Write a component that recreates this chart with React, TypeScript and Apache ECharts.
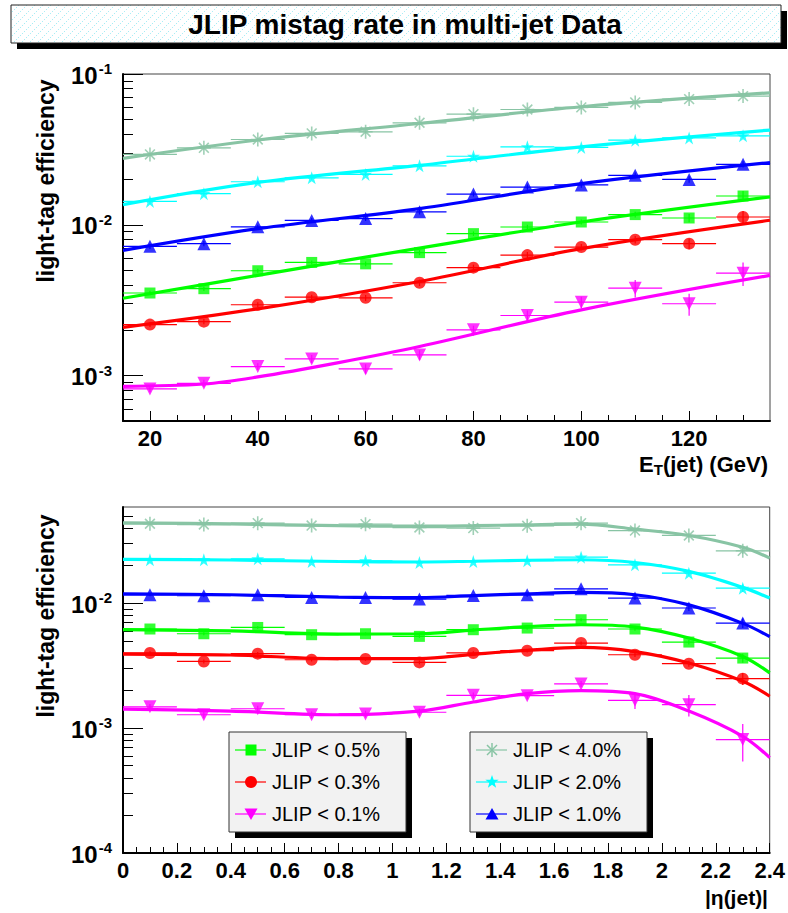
import React, { useEffect, useRef } from 'react';
import * as echarts from 'echarts';

const FAM = "'Liberation Sans', Arial, Helvetica, sans-serif";

// ---------- top panel: efficiency vs E_T ----------
const etBins = [20, 30, 40, 50, 60, 70, 80, 90, 100, 110, 120, 130];
const etHalf = 5;
const et40 = [0.0293, 0.0324, 0.0368, 0.0404, 0.0414, 0.0475, 0.0542, 0.0582, 0.0601, 0.0648, 0.0682, 0.0714];
const et20 = [0.0143, 0.0161, 0.0193, 0.0205, 0.0216, 0.0246, 0.0285, 0.0329, 0.0326, 0.0364, 0.0377, 0.0389];
const et10 = [0.0072, 0.0075, 0.0097, 0.0107, 0.011, 0.0122, 0.016, 0.0178, 0.0184, 0.0213, 0.02, 0.0252];
const et05 = [0.00353, 0.00377, 0.00496, 0.00563, 0.00551, 0.00654, 0.00874, 0.00967, 0.01044, 0.01169, 0.0111, 0.01553];
const et03 = [0.00218, 0.00228, 0.00295, 0.00331, 0.00328, 0.00413, 0.0052, 0.0063, 0.00712, 0.00797, 0.0075, 0.01127];
const et01 = [0.000816, 0.000889, 0.001148, 0.001291, 0.001108, 0.001372, 0.002012, 0.002504, 0.003069, 0.003802, 0.002995, 0.004781];

const et40Err = [0.0008, 0.0008, 0.0008, 0.0008, 0.0009, 0.001, 0.0011, 0.0012, 0.0013, 0.0014, 0.0016, 0.0018];
const et20Err = [0.0005, 0.0005, 0.0005, 0.0006, 0.0006, 0.0007, 0.0008, 0.0009, 0.001, 0.0011, 0.0012, 0.0014];
const et10Err = [0.0003, 0.0003, 0.0003, 0.0004, 0.0004, 0.0005, 0.0006, 0.0007, 0.0008, 0.0009, 0.001, 0.0012];
const et05Err = [0.00012, 0.00013, 0.00015, 0.00018, 0.0002, 0.00025, 0.0003, 0.00035, 0.0004, 0.0005, 0.0007, 0.0012];
const et03Err = [0.00008, 0.00009, 0.00011, 0.00013, 0.00015, 0.0002, 0.00024, 0.0003, 0.00035, 0.00045, 0.0006, 0.0011];
const et01Err = [0.00004, 0.00005, 0.00006, 0.00008, 0.00008, 0.0001, 0.00013, 0.0002, 0.00026, 0.0005, 0.0005, 0.00085];

const etFitX = [15, 40, 70, 100, 135];
const etFit40 = [0.0276, 0.0365, 0.047, 0.0607, 0.0751];
const etFit20 = [0.0136, 0.0191, 0.0248, 0.0329, 0.0425];
const etFit10 = [0.00677, 0.00943, 0.01281, 0.01877, 0.0259];
const etFit05 = [0.00326, 0.00462, 0.00701, 0.01044, 0.0153];
const etFit03 = [0.00209, 0.00277, 0.00421, 0.00695, 0.01072];
const etFitX01 = [15, 30, 40, 55, 70, 100, 135];
const etFit01 = [0.000849, 0.00088, 0.00098, 0.00122, 0.00156, 0.00273, 0.00462];

// ---------- bottom panel: efficiency vs |eta| ----------
const etaBins = [0.1, 0.3, 0.5, 0.7, 0.9, 1.1, 1.3, 1.5, 1.7, 1.9, 2.1, 2.3];
const etaHalf = 0.1;
const eta40 = [0.0433, 0.0427, 0.0438, 0.0419, 0.043, 0.0404, 0.04, 0.0417, 0.0438, 0.0382, 0.0349, 0.0263];
const eta20 = [0.0223, 0.0223, 0.0227, 0.0216, 0.0219, 0.0212, 0.0216, 0.0219, 0.0234, 0.0203, 0.0174, 0.0132];
const eta10 = [0.01169, 0.01148, 0.01169, 0.01113, 0.01113, 0.0108, 0.01155, 0.01169, 0.01306, 0.01101, 0.00916, 0.00694];
const eta05 = [0.00622, 0.0057, 0.0064, 0.0056, 0.0057, 0.00543, 0.00614, 0.00633, 0.00738, 0.00622, 0.00489, 0.00364];
const eta03 = [0.004, 0.00342, 0.00395, 0.00353, 0.00358, 0.00336, 0.004, 0.00417, 0.0048, 0.00387, 0.00328, 0.00249];
const eta01 = [0.00148, 0.00128, 0.00143, 0.00128, 0.0013, 0.00134, 0.00183, 0.00182, 0.00226, 0.00167, 0.00154, 0.00081];

const eta40Err = [0.0009, 0.0009, 0.0009, 0.0009, 0.0009, 0.0009, 0.0009, 0.001, 0.0012, 0.0012, 0.0014, 0.0015];
const eta20Err = [0.0005, 0.0005, 0.0005, 0.0005, 0.0005, 0.0005, 0.0005, 0.0006, 0.0007, 0.0007, 0.0008, 0.0009];
const eta10Err = [0.0003, 0.0003, 0.0003, 0.0003, 0.0003, 0.0003, 0.0003, 0.0004, 0.0004, 0.0004, 0.0005, 0.0006];
const eta05Err = [0.00015, 0.00015, 0.00015, 0.00015, 0.00015, 0.00015, 0.00016, 0.00018, 0.0002, 0.0002, 0.00022, 0.0003];
const eta03Err = [0.00012, 0.00012, 0.00012, 0.00012, 0.00012, 0.00012, 0.00013, 0.00014, 0.00015, 0.00016, 0.00018, 0.00028];
const eta01Err = [0.00008, 0.00008, 0.00008, 0.00008, 0.00008, 0.00009, 0.0001, 0.00012, 0.00013, 0.00025, 0.0003, 0.00027];

const etaFitX = [0, 0.4, 0.8, 1.1, 1.3, 1.5, 1.7, 1.9, 2.1, 2.3, 2.4];
const etaFit40 = [0.044, 0.0432, 0.0418, 0.0414, 0.0418, 0.0425, 0.043, 0.0392, 0.0349, 0.0281, 0.023];
const etaFit20 = [0.0225, 0.0222, 0.0216, 0.0214, 0.0217, 0.0221, 0.0223, 0.0212, 0.018, 0.0134, 0.011];
const etaFit10 = [0.0119, 0.0117, 0.0112, 0.0111, 0.0115, 0.0119, 0.0122, 0.0117, 0.0097, 0.0069, 0.0054];
const etaFit05 = [0.00614, 0.006, 0.00567, 0.0057, 0.0061, 0.0065, 0.00673, 0.00645, 0.00527, 0.00375, 0.00277];
const etaFit03 = [0.00392, 0.00385, 0.0036, 0.0036, 0.0039, 0.0042, 0.00443, 0.0041, 0.00332, 0.00237, 0.0018];
const etaFit01 = [0.00142, 0.00137, 0.00128, 0.00137, 0.00162, 0.00189, 0.002, 0.00189, 0.00137, 0.00086, 0.00058];

// ---------- axes ----------
const etLabelTicks = [20, 40, 60, 80, 100, 120];
const etMinorTicks = [25, 30, 35, 45, 50, 55, 65, 70, 75, 85, 90, 95, 105, 110, 115, 125, 130];
const topDecades = [0.001, 0.01, 0.1];
const topMinor = [0.0006, 0.0007, 0.0008, 0.0009, 0.002, 0.003, 0.004, 0.005, 0.006, 0.007, 0.008, 0.009, 0.02, 0.03, 0.04, 0.05, 0.06, 0.07, 0.08, 0.09];
const botDecades = [0.0001, 0.001, 0.01];
const botMinor = [0.0002, 0.0003, 0.0004, 0.0005, 0.0006, 0.0007, 0.0008, 0.0009, 0.002, 0.003, 0.004, 0.005, 0.006, 0.007, 0.008, 0.009, 0.02, 0.03, 0.04, 0.05];

const cuts = [
  { name: 'JLIP < 0.5%', color: '#00ff00', symbol: 'rect', size: 11, rotate: 0 },
  { name: 'JLIP < 0.3%', color: '#ff0000', symbol: 'circle', size: 12, rotate: 0 },
  { name: 'JLIP < 0.1%', color: '#ff00ff', symbol: 'triangle', size: 13, rotate: 180 },
  { name: 'JLIP < 4.0%', color: '#88c4a4', symbol: 'asterisk', size: 14, rotate: 0 },
  { name: 'JLIP < 2.0%', color: '#00ffff', symbol: 'star', size: 13, rotate: 0 },
  { name: 'JLIP < 1.0%', color: '#0000ff', symbol: 'triangle', size: 13, rotate: 0 },
];

const topSets = [
  { v: et05, e: et05Err, fx: etFitX, fy: etFit05 },
  { v: et03, e: et03Err, fx: etFitX, fy: etFit03 },
  { v: et01, e: et01Err, fx: etFitX01, fy: etFit01 },
  { v: et40, e: et40Err, fx: etFitX, fy: etFit40 },
  { v: et20, e: et20Err, fx: etFitX, fy: etFit20 },
  { v: et10, e: et10Err, fx: etFitX, fy: etFit10 },
];
const botSets = [
  { v: eta05, e: eta05Err, fx: etaFitX, fy: etaFit05 },
  { v: eta03, e: eta03Err, fx: etaFitX, fy: etaFit03 },
  { v: eta01, e: eta01Err, fx: etaFitX, fy: etaFit01 },
  { v: eta40, e: eta40Err, fx: etaFitX, fy: etaFit40 },
  { v: eta20, e: eta20Err, fx: etaFitX, fy: etaFit20 },
  { v: eta10, e: eta10Err, fx: etaFitX, fy: etaFit10 },
];

const STAR = 'path://M50,0 L61.8,36.2 L100,36.2 L69.1,58.6 L80.9,95.1 L50,72.6 L19.1,95.1 L30.9,58.6 L0,36.2 L38.2,36.2 Z';
const ASTER = 'path://M50,0 L50,100 M0,50 L100,50 M15,15 L85,85 M15,85 L85,15';

function symbolOf(c: any) {
  if (c.symbol === 'star') return STAR;
  if (c.symbol === 'asterisk') return ASTER;
  return c.symbol;
}

function buildSeries(bins: number[], half: number, sets: any[], xi: number, yi: number) {
  const out: any[] = [];
  sets.forEach((s, k) => {
    const c = cuts[k];
    out.push({
      type: 'custom',
      name: c.name + ' err',
      xAxisIndex: xi,
      yAxisIndex: yi,
      z: 2,
      silent: true,
      encode: { x: 0, y: 1 },
      data: bins.map((b, i) => [b, s.v[i], half, s.e[i]]),
      renderItem: (params: any, api: any) => {
        const x = api.value(0), y = api.value(1), dx = api.value(2), dy = api.value(3);
        const l = api.coord([x - dx, y]);
        const r = api.coord([x + dx, y]);
        const t = api.coord([x, y + dy]);
        const bt = api.coord([x, Math.max(y - dy, 1e-6)]);
        const style = { stroke: c.color, lineWidth: 1.2 };
        return {
          type: 'group',
          children: [
            { type: 'line', shape: { x1: l[0], y1: l[1], x2: r[0], y2: r[1] }, style },
            { type: 'line', shape: { x1: t[0], y1: t[1], x2: bt[0], y2: bt[1] }, style },
          ],
        };
      },
    });
    out.push({
      type: 'line',
      name: c.name + ' fit',
      xAxisIndex: xi,
      yAxisIndex: yi,
      z: 3,
      smooth: 0.35,
      showSymbol: false,
      silent: true,
      lineStyle: { color: c.color, width: 3.2 },
      data: s.fx.map((x: number, i: number) => [x, s.fy[i]]),
    });
    const isAst = c.symbol === 'asterisk';
    out.push({
      type: 'scatter',
      name: c.name,
      xAxisIndex: xi,
      yAxisIndex: yi,
      z: 4,
      symbol: symbolOf(c),
      symbolSize: c.size,
      symbolRotate: c.rotate,
      itemStyle: isAst
        ? { color: 'none', borderColor: c.color, borderWidth: 1.6 }
        : { color: c.color },
      data: bins.map((b, i) => [b, s.v[i]]),
    });
  });
  return out;
}

const expLabel = (v: number) => `{b|10}{s|${Math.round(Math.log10(v))}}`;
const expRich = {
  b: { fontFamily: FAM, fontSize: 24, fontWeight: 'bold', color: '#000', verticalAlign: 'bottom' },
  s: { fontFamily: FAM, fontSize: 15, fontWeight: 'bold', color: '#000', verticalAlign: 'bottom', padding: [0, 0, 11, 1] },
};

const tickLabel = { fontFamily: FAM, fontSize: 22, fontWeight: 'bold', color: '#000' };

function mainX(grid: number, min: number, max: number, extra: any) {
  return {
    gridIndex: grid, type: 'value', min, max, position: 'bottom',
    axisLine: { show: true, onZero: false, lineStyle: { color: '#000', width: 2 } },
    splitLine: { show: false },
    ...extra,
  };
}

function legendMarker(k: number, cx: number, cy: number): any {
  const c = cuts[k];
  const st = { fill: c.color };
  if (c.symbol === 'rect') return { type: 'rect', shape: { x: cx - 5.5, y: cy - 5.5, width: 11, height: 11 }, style: st };
  if (c.symbol === 'circle') return { type: 'circle', shape: { cx, cy, r: 6 }, style: st };
  if (c.symbol === 'triangle' && c.rotate === 180)
    return { type: 'polygon', shape: { points: [[cx - 6.5, cy - 5.5], [cx + 6.5, cy - 5.5], [cx, cy + 6]] }, style: st };
  if (c.symbol === 'triangle')
    return { type: 'polygon', shape: { points: [[cx - 6.5, cy + 5.5], [cx + 6.5, cy + 5.5], [cx, cy - 6]] }, style: st };
  if (c.symbol === 'star') {
    const pts: number[][] = [];
    for (let i = 0; i < 10; i++) {
      const r = i % 2 === 0 ? 7 : 2.8;
      const a = -Math.PI / 2 + (i * Math.PI) / 5;
      pts.push([cx + r * Math.cos(a), cy + r * Math.sin(a)]);
    }
    return { type: 'polygon', shape: { points: pts }, style: st };
  }
  const ls = { stroke: c.color, lineWidth: 1.5 };
  return {
    type: 'group',
    children: [
      { type: 'line', z: 21, shape: { x1: cx, y1: cy - 7, x2: cx, y2: cy + 7 }, style: ls },
      { type: 'line', z: 21, shape: { x1: cx - 5, y1: cy - 5, x2: cx + 5, y2: cy + 5 }, style: ls },
      { type: 'line', z: 21, shape: { x1: cx - 5, y1: cy + 5, x2: cx + 5, y2: cy - 5 }, style: ls },
    ],
  };
}

function legendBox(x: number, y: number, idx: number[]): any[] {
  const els: any[] = [
    { type: 'rect', z: 20, shape: { x: x + 6, y: y + 6, width: 177, height: 100 }, style: { fill: '#000' } },
    { type: 'rect', z: 20, shape: { x, y, width: 177, height: 100 }, style: { fill: '#f2f2f2', stroke: '#333', lineWidth: 1 } },
  ];
  idx.forEach((k, r) => {
    const cy = y + 18 + r * 32;
    els.push({ type: 'line', z: 21, shape: { x1: x + 6, y1: cy, x2: x + 37, y2: cy }, style: { stroke: cuts[k].color, lineWidth: 1.2 } });
    els.push({ ...legendMarker(k, x + 22, cy), z: 22 });
    els.push({
      type: 'text', x: x + 43, y: cy, z: 22,
      style: { text: cuts[k].name, fontFamily: FAM, fontSize: 20, fill: '#000', align: 'left', verticalAlign: 'middle' },
    });
  });
  return els;
}

const hatch =
  'data:image/svg+xml;utf8,' +
  encodeURIComponent(
    '<svg xmlns="http://www.w3.org/2000/svg" width="8" height="8"><rect width="8" height="8" fill="#ffffff"/><path d="M0 8 L8 0" stroke="#9deaf3" stroke-width="0.9" stroke-dasharray="1.4 1.4"/></svg>'
  );

export default function App() {
  const ref = useRef<HTMLDivElement>(null);
  useEffect(() => {
    const chart = echarts.init(ref.current!, null, { renderer: 'svg' });
    const option: any = {
      animation: false,
      backgroundColor: '#ffffff',
      textStyle: { fontFamily: FAM },
      grid: [
        { left: 123, top: 74, width: 647, height: 347, show: true, borderColor: '#444', borderWidth: 1, backgroundColor: 'transparent' },
        { left: 123, top: 507, width: 647, height: 346, show: true, borderColor: '#444', borderWidth: 1, backgroundColor: 'transparent' },
      ],
      xAxis: [
        mainX(0, 15, 135, {
          axisTick: { show: true, inside: true, length: 10, customValues: etLabelTicks, lineStyle: { color: '#000', width: 1 } },
          axisLabel: { customValues: etLabelTicks, margin: 6, ...tickLabel },
        }),
        {
          gridIndex: 0, type: 'value', min: 15, max: 135, position: 'bottom',
          axisLine: { show: false }, splitLine: { show: false }, axisLabel: { show: false },
          axisTick: { show: true, inside: true, length: 6, customValues: etMinorTicks, lineStyle: { color: '#000', width: 1 } },
        },
        mainX(1, 0, 2.4, {
          interval: 0.2,
          axisTick: { show: true, inside: true, length: 10, lineStyle: { color: '#000', width: 1 } },
          minorTick: { show: true, splitNumber: 4, length: 6, lineStyle: { color: '#000', width: 1 } },
          axisLabel: { margin: 6, formatter: (v: number) => String(Math.round(v * 10) / 10), ...tickLabel },
        }),
      ],
      yAxis: [
        {
          gridIndex: 0, type: 'log', logBase: 10, min: 0.0005, max: 0.10005, position: 'left',
          axisLine: { show: true, onZero: false, lineStyle: { color: '#000', width: 2 } },
          splitLine: { show: false },
          axisTick: { show: true, inside: true, length: 20, customValues: topDecades, lineStyle: { color: '#000', width: 1 } },
          axisLabel: { customValues: topDecades, margin: 11, formatter: expLabel, rich: expRich },
        },
        {
          gridIndex: 0, type: 'log', logBase: 10, min: 0.0005, max: 0.10005, position: 'left',
          axisLine: { show: false }, splitLine: { show: false }, axisLabel: { show: false },
          axisTick: { show: true, inside: true, length: 10, customValues: topMinor, lineStyle: { color: '#000', width: 1 } },
        },
        {
          gridIndex: 1, type: 'log', logBase: 10, min: 0.0001, max: 0.059, position: 'left',
          axisLine: { show: true, onZero: false, lineStyle: { color: '#000', width: 2 } },
          splitLine: { show: false },
          axisTick: { show: true, inside: true, length: 20, customValues: botDecades, lineStyle: { color: '#000', width: 1 } },
          axisLabel: { customValues: botDecades, margin: 11, formatter: expLabel, rich: expRich },
        },
        {
          gridIndex: 1, type: 'log', logBase: 10, min: 0.0001, max: 0.059, position: 'left',
          axisLine: { show: false }, splitLine: { show: false }, axisLabel: { show: false },
          axisTick: { show: true, inside: true, length: 10, customValues: botMinor, lineStyle: { color: '#000', width: 1 } },
        },
      ],
      series: [
        ...buildSeries(etBins, etHalf, topSets, 0, 0),
        ...buildSeries(etaBins, etaHalf, botSets, 2, 2),
      ],
      graphic: [
        { type: 'rect', shape: { x: 17, y: 11, width: 770, height: 38 }, style: { fill: '#000' }, z: 10 },
        {
          type: 'rect', shape: { x: 11, y: 5, width: 770, height: 38 }, z: 11,
          style: { fill: { image: hatch, repeat: 'repeat', imageWidth: 8, imageHeight: 8 }, stroke: '#222', lineWidth: 1 },
        },
        {
          type: 'text', x: 405, y: 24, z: 12,
          style: { text: 'JLIP mistag rate in multi-jet Data', fontFamily: FAM, fontSize: 28, fontWeight: 'bold', fill: '#000', align: 'center', verticalAlign: 'middle' },
        },
        {
          type: 'text', x: 46, y: 181, rotation: Math.PI / 2, z: 12,
          style: { text: 'light-tag efficiency', fontFamily: FAM, fontSize: 23, fontWeight: 'bold', fill: '#000', align: 'center', verticalAlign: 'middle' },
        },
        {
          type: 'text', x: 46, y: 616, rotation: Math.PI / 2, z: 12,
          style: { text: 'light-tag efficiency', fontFamily: FAM, fontSize: 23, fontWeight: 'bold', fill: '#000', align: 'center', verticalAlign: 'middle' },
        },
        {
          type: 'text', x: 768, y: 465, z: 12,
          style: {
            text: '{n|E}{t|T}{n|(jet) (GeV)}', align: 'right', verticalAlign: 'middle',
            rich: {
              n: { fontFamily: FAM, fontSize: 22, fontWeight: 'bold', fill: '#000', verticalAlign: 'top' },
              t: { fontFamily: FAM, fontSize: 15, fontWeight: 'bold', fill: '#000', verticalAlign: 'bottom', padding: [8, 0, 0, 0] },
            },
          },
        },
        {
          type: 'text', x: 768, y: 897, z: 12,
          style: { text: '|η(jet)|', fontFamily: FAM, fontSize: 21, fontWeight: 'bold', fill: '#000', align: 'right', verticalAlign: 'middle' },
        },
        ...legendBox(229, 732, [0, 1, 2]),
        ...legendBox(470, 732, [3, 4, 5]),
      ],
    };
    chart.setOption(option);
    return () => chart.dispose();
  }, []);
  return (
    <div
      ref={ref}
      style={{ position: 'absolute', left: 0, top: 0, width: 788, height: 913, background: '#fff' }}
    />
  );
}
